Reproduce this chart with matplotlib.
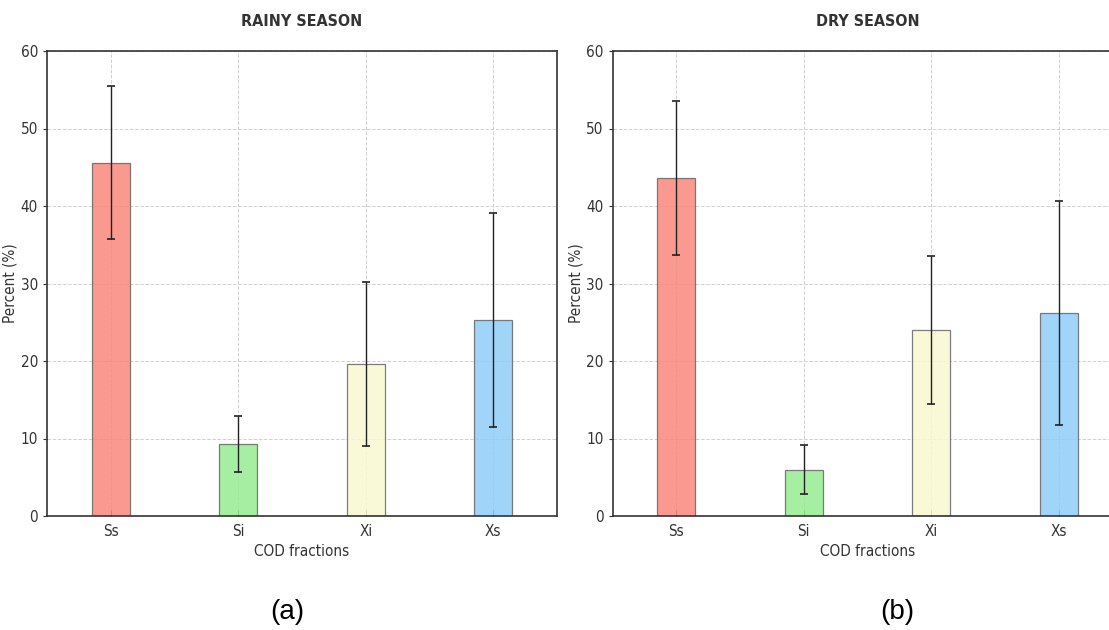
import matplotlib
matplotlib.use("Agg")
import matplotlib.pyplot as plt
import numpy as np

# COD fractions, percent of total COD
fracciones = ["Ss", "Si", "Xi", "Xs"]
lluvia_media = [45.6, 9.3, 19.6, 25.3]
lluvia_err = [9.9, 3.6, 10.6, 13.8]
seca_media = [43.6, 6.0, 24.0, 26.2]
seca_err = [9.9, 3.2, 9.5, 14.4]
titulos = ["RAINY SEASON", "DRY SEASON"]
etiquetas = ["(a)", "(b)"]

colores = ["#f8877c", "#97eb91", "#f9f9d0", "#8fcdf8"]

plt.rcParams['font.family'] = ['DejaVu Sans']
plt.rcParams['font.stretch'] = 'condensed'

fig = plt.figure(figsize=(11.09, 6.3), dpi=100)
W, H = 1109, 630

ejes = [
    fig.add_axes([47 / W, (630 - 516) / H, 510 / W, 465 / H]),
    fig.add_axes([612.5 / W, (630 - 516) / H, 510 / W, 465 / H]),
]

datos = [(lluvia_media, lluvia_err), (seca_media, seca_err)]
x = np.arange(len(fracciones))

for ax, (media, err), titulo in zip(ejes, datos, titulos):
    ax.bar(x, media, width=0.3, color=colores, alpha=0.85,
           edgecolor="#666666", linewidth=0.9, zorder=2)
    ax.errorbar(x, media, yerr=err, fmt="none", ecolor="#222222",
                elinewidth=1.0, capsize=3, capthick=1.2, zorder=3)
    ax.set_xlim(-0.5, 3.5)
    ax.set_ylim(0, 60)
    ax.set_yticks(range(0, 61, 10))
    ax.set_xticks(x)
    ax.set_xticklabels(fracciones)
    ax.grid(True, color="#d0d0d0", linestyle="--", linewidth=0.7, zorder=0)
    ax.set_axisbelow(True)
    ax.tick_params(axis="x", direction="in", length=4, labelsize=11, pad=6, colors="#333333")
    ax.tick_params(axis="y", direction="out", length=3, labelsize=11, colors="#333333")
    for s in ax.spines.values():
        s.set_color("#333333")
        s.set_linewidth(1.2)
    ax.set_title(titulo, fontsize=11.5, fontweight="bold", color="#333333", pad=18)
    ax.set_xlabel("COD fractions", fontsize=11, color="#333333", labelpad=3)
    ax.set_ylabel("Percent (%)", fontsize=11, color="#333333")
    ax.yaxis.set_label_coords(-0.057, 0.5)

fig.text(287 / W, 1 - 612 / H, etiquetas[0], fontsize=20, family="Liberation Sans",
         ha="center", va="center")
fig.text(897 / W, 1 - 612 / H, etiquetas[1], fontsize=20, family="Liberation Sans",
         ha="center", va="center")

fig.savefig("out.png", dpi=100)
